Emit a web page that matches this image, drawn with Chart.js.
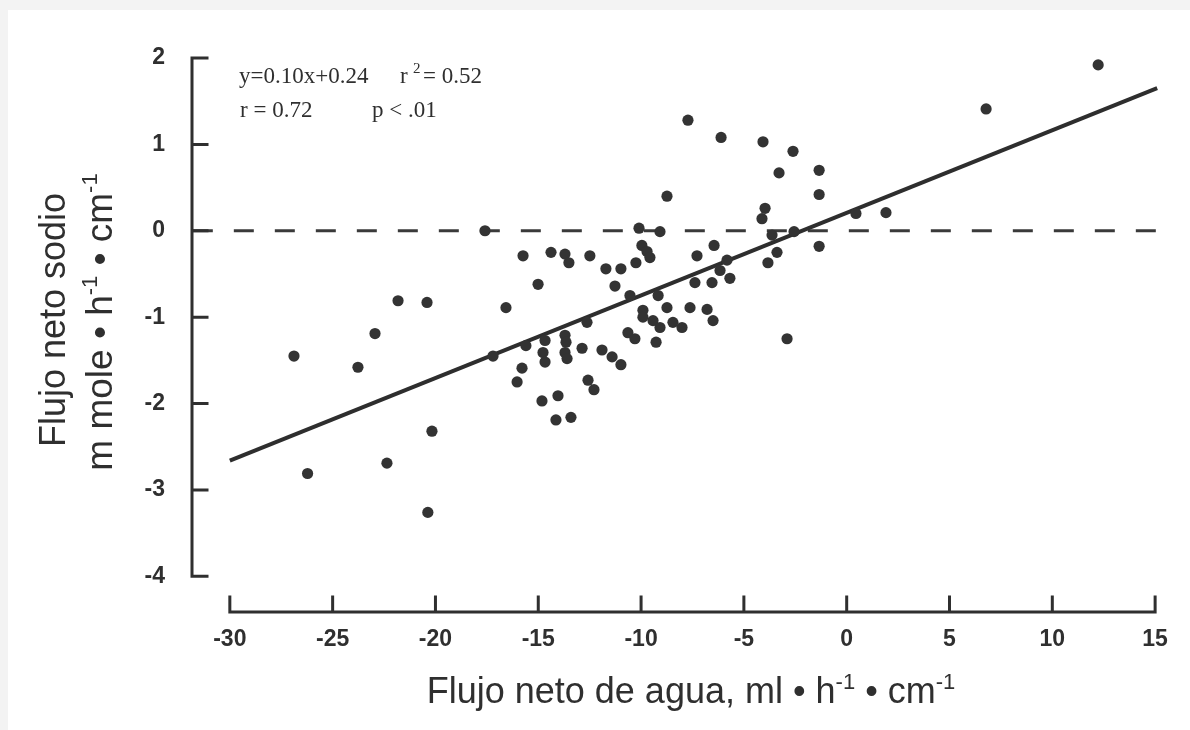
<!DOCTYPE html>
<html>
<head>
<meta charset="utf-8">
<script src="https://cdn.jsdelivr.net/npm/chart.js@4.4.0/dist/chart.umd.min.js"></script>
<style>
  html, body { margin: 0; padding: 0; background: #fff; overflow: hidden; }
  canvas { display: block; }
</style>
</head>
<body>
<canvas id="flux-chart" width="1190" height="730"></canvas>
<script>
// water flux (x) and sodium flux (y)
const waterFlux = [
  -26.88, -26.22, -23.77, -22.94, -22.36, -21.82, -20.41, -20.17, -20.37, -17.59,
  -17.20, -16.57, -16.03, -15.79, -15.74, -15.60, -15.01, -14.82, -14.77, -14.67,
  -14.67, -14.38, -14.14, -14.04, -13.70, -13.51, -13.70, -13.65, -13.70, -13.60,
  -13.41, -12.87, -12.63, -12.58, -12.29, -12.49, -11.90, -11.71, -11.41, -11.27,
  -10.98, -10.98, -10.64, -10.54, -10.30, -10.25, -10.10, -9.96, -9.71, -9.57,
  -9.91, -9.91, -9.42, -9.27, -9.17, -9.08, -9.08, -8.74, -8.74, -8.45,
  -8.01, -7.72, -7.62, -7.28, -7.38, -6.79, -6.50, -6.55, -6.45, -6.11,
  -6.16, -5.82, -5.68, -4.12, -4.07, -3.97, -3.83, -3.63, -3.39, -3.29,
  -2.90, -2.61, -2.56, -1.34, -1.34, -1.34, 0.45, 1.91, 6.78, 12.23
];
const sodiumFlux = [
  -1.45, -2.81, -1.58, -1.19, -2.69, -0.81, -0.83, -2.32, -3.26, 0.00,
  -1.45, -0.89, -1.75, -1.59, -0.29, -1.33, -0.62, -1.97, -1.41, -1.27,
  -1.52, -0.25, -2.19, -1.91, -0.27, -0.37, -1.21, -1.29, -1.41, -1.48,
  -2.16, -1.36, -1.06, -1.73, -1.84, -0.29, -1.38, -0.44, -1.46, -0.64,
  -0.44, -1.55, -1.18, -0.75, -1.25, -0.37, 0.03, -0.17, -0.24, -0.31,
  -0.92, -1.00, -1.04, -1.29, -0.75, -1.12, -0.01, 0.40, -0.89, -1.06,
  -1.12, 1.28, -0.89, -0.29, -0.60, -0.91, -1.04, -0.60, -0.17, 1.08,
  -0.46, -0.34, -0.55, 0.14, 1.03, 0.26, -0.37, -0.05, -0.25, 0.67,
  -1.25, 0.92, -0.01, 0.70, 0.42, -0.18, 0.20, 0.21, 1.41, 1.92
];

// fitted line as drawn, and the zero reference
const fitX = [-30, 15.1];
const fitY = [-2.66, 1.65];
const zeroX = [-31.8, 15.1];
const zeroY = [0, 0];

const xTicks = [-30, -25, -20, -15, -10, -5, 0, 5, 10, 15];
const yTicks = [-4, -3, -2, -1, 0, 1, 2];

const ink = '#2f2f2f';
const sans = '"Liberation Sans", Arial, Helvetica, sans-serif';
const serif = '"Liberation Serif", "Times New Roman", serif';

// draws text pieces centred on x, superscripts raised and smaller
function drawRuns(c, runs, x, y, size, family) {
  const widths = runs.map(r => {
    c.font = (r[1] ? Math.round(size * 0.6) : size) + 'px ' + family;
    return c.measureText(r[0]).width;
  });
  let cx = x - widths.reduce((a, b) => a + b, 0) / 2;
  runs.forEach((r, i) => {
    c.font = (r[1] ? Math.round(size * 0.6) : size) + 'px ' + family;
    c.fillText(r[0], cx, r[1] ? y - size * 0.4 : y);
    cx += widths[i];
  });
}

const paperAxes = {
  id: 'paperAxes',
  beforeDraw(chart) {
    const c = chart.ctx;
    c.save();
    c.fillStyle = '#f3f3f3';
    c.fillRect(0, 0, chart.width, chart.height);
    c.fillStyle = '#ffffff';
    c.fillRect(8, 10, chart.width - 8, chart.height - 10);
    c.restore();
  },
  afterDraw(chart) {
    const c = chart.ctx;
    const xs = chart.scales.x, ys = chart.scales.y, area = chart.chartArea;
    c.save();
    c.strokeStyle = ink;
    c.lineWidth = 3;
    c.lineCap = 'square';

    // y axis with inward ticks
    c.beginPath();
    c.moveTo(area.left, ys.getPixelForValue(yTicks[yTicks.length - 1]));
    c.lineTo(area.left, ys.getPixelForValue(yTicks[0]));
    yTicks.forEach(v => {
      const p = ys.getPixelForValue(v);
      c.moveTo(area.left, p);
      c.lineTo(area.left + 15, p);
    });
    // detached x axis with upward ticks
    c.moveTo(xs.getPixelForValue(xTicks[0]), area.bottom);
    c.lineTo(xs.getPixelForValue(xTicks[xTicks.length - 1]), area.bottom);
    xTicks.forEach(v => {
      const p = xs.getPixelForValue(v);
      c.moveTo(p, area.bottom);
      c.lineTo(p, area.bottom - 15);
    });
    c.stroke();

    // axis titles
    c.fillStyle = ink;
    c.textAlign = 'left';
    c.textBaseline = 'alphabetic';
    drawRuns(c, [['Flujo neto de agua, ml \u2022 h', false], ['-1', true], [' \u2022 cm', false], ['-1', true]],
      691, 703, 36, sans);

    c.save();
    c.translate(65, 320);
    c.rotate(-Math.PI / 2);
    drawRuns(c, [['Flujo neto sodio', false]], 0, 0, 36, sans);
    c.restore();
    c.save();
    c.translate(112, 322);
    c.rotate(-Math.PI / 2);
    drawRuns(c, [['m mole \u2022 h', false], ['-1', true], [' \u2022 cm', false], ['-1', true]], 0, 0, 37, sans);
    c.restore();

    // regression note
    c.font = '23px ' + serif;
    c.fillText('y=0.10x+0.24', 239, 83);
    c.fillText('r', 400, 83);
    c.font = '15px ' + serif;
    c.fillText('2', 413, 73);
    c.font = '23px ' + serif;
    c.fillText('= 0.52', 423, 83);
    c.fillText('r = 0.72', 240, 117);
    c.fillText('p < .01', 372, 117);
    c.restore();
  }
};

const points = waterFlux.map((x, i) => ({ x: x, y: sodiumFlux[i] }));
const fitLine = fitX.map((x, i) => ({ x: x, y: fitY[i] }));
const zeroLine = zeroX.map((x, i) => ({ x: x, y: zeroY[i] }));

const ctx = document.getElementById('flux-chart').getContext('2d');
const fluxChart = new Chart(ctx, {
  type: 'scatter',
  data: {
    datasets: [{
      type: 'line',
      data: zeroLine,
      borderColor: '#3a3a3a',
      borderWidth: 3,
      borderDash: [20, 21],
      pointRadius: 0,
      fill: false,
      order: 3
    }, {
      type: 'line',
      data: fitLine,
      borderColor: '#2e2e2e',
      borderWidth: 4,
      pointRadius: 0,
      fill: false,
      order: 2
    }, {
      data: points,
      backgroundColor: '#333333',
      borderWidth: 0,
      pointRadius: 5.6,
      order: 1
    }]
  },
  options: {
    responsive: false,
    devicePixelRatio: 1,
    animation: false,
    layout: { padding: { top: 40, right: 32, left: 0, bottom: 0 } },
    plugins: {
      legend: { display: false },
      tooltip: { enabled: false }
    },
    scales: {
      x: {
        type: 'linear',
        min: -31.84,
        max: 15.14,
        grid: { display: false, drawTicks: false },
        border: { display: false },
        afterBuildTicks: s => { s.ticks = xTicks.map(v => ({ value: v })); },
        afterFit: s => { s.height = 118; },
        ticks: {
          font: { family: sans, size: 23, weight: 'bold' },
          color: ink,
          padding: 14,
          autoSkip: false,
          maxRotation: 0,
          callback: v => String(v)
        }
      },
      y: {
        type: 'linear',
        min: -4.413,
        max: 2.199,
        grid: { display: false, drawTicks: false },
        border: { display: false },
        afterBuildTicks: s => { s.ticks = yTicks.map(v => ({ value: v })); },
        afterFit: s => { s.width = 192; },
        ticks: {
          font: { family: sans, size: 23, weight: 'bold' },
          color: ink,
          padding: 27,
          autoSkip: false,
          callback: v => String(v)
        }
      }
    }
  },
  plugins: [paperAxes]
});
</script>
</body>
</html>
